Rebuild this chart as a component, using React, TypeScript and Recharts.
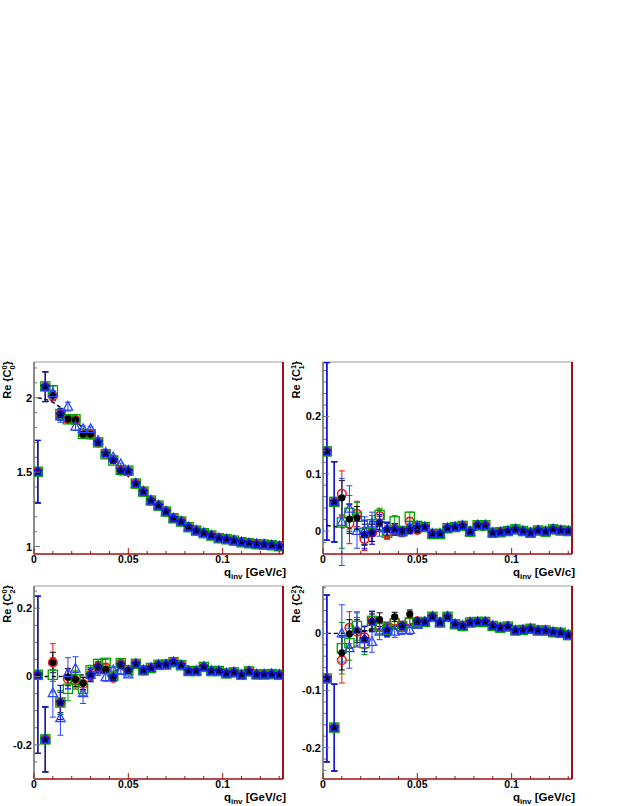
import React from 'react';
import { ComposedChart, Scatter, XAxis, YAxis, ErrorBar, ReferenceLine } from 'recharts';

// ---------- data ----------
const qBins = [0.002, 0.006, 0.010, 0.014, 0.018, 0.022, 0.026, 0.030, 0.034, 0.038, 0.042, 0.046, 0.050,
  0.054, 0.058, 0.062, 0.066, 0.070, 0.074, 0.078, 0.082, 0.086, 0.090, 0.094, 0.098, 0.102, 0.106, 0.110,
  0.114, 0.118, 0.122, 0.126, 0.130];

const xTicks = [0, 0.01, 0.02, 0.03, 0.04, 0.05, 0.06, 0.07, 0.08, 0.09, 0.1, 0.11, 0.12, 0.13];
const xMajor = [0, 0.05, 0.1];
const xLabels = ['0', '0.05', '0.1'];

// Panel 1: Re C00
const c00Tail = [1.423, 1.369, 1.309, 1.275, 1.235, 1.19, 1.168, 1.13, 1.107, 1.09, 1.074, 1.056, 1.049, 1.04, 1.029, 1.022, 1.016, 1.013, 1.009, 1.002];
const c00TailErr = [0.006, 0.006, 0.006, 0.005, 0.005, 0.005, 0.005, 0.005, 0.004, 0.004, 0.004, 0.004, 0.004, 0.004, 0.003, 0.003, 0.003, 0.003, 0.003, 0.003];
const c00Red = [1.503, 2.074, 2.012, 1.885, 1.855, 1.85, 1.76, 1.752, 1.70, 1.622, 1.585, 1.51, 1.505];
const c00Green = [1.503, 2.076, 2.05, 1.89, 1.855, 1.855, 1.757, 1.755, 1.70, 1.62, 1.578, 1.515, 1.51];
const c00Black = [1.503, 2.074, 2.015, 1.888, 1.857, 1.852, 1.756, 1.754, 1.70, 1.624, 1.58, 1.512, 1.508];
const c00BlueOpen = [1.503, 2.074, 2.03, 1.875, 1.94, 1.805, 1.79, 1.79, 1.71, 1.63, 1.60, 1.553, 1.51];
const c00BlueFull = [1.503, 2.074, null, 1.888, null, null, null, null, 1.70, 1.624, 1.58, 1.512, 1.508];
const c00ErrSmall = [0.21, 0.1, 0.03, 0.025, 0.02, 0.015, 0.012, 0.01, 0.01, 0.008, 0.008, 0.008, 0.007];
const c00ErrBlue = [0.21, 0.1, 0.05, 0.04, 0.03, 0.025, 0.02, 0.015, 0.012, 0.01, 0.01, 0.008, 0.007];
const c00Fit = [2.0, 1.99, 1.97, 1.935, 1.89, 1.845, 1.795, 1.745, 1.69, 1.635, 1.58, 1.525, 1.47, 1.415, 1.365, 1.315, 1.27, 1.23, 1.19, 1.16, 1.13, 1.105, 1.09, 1.075, 1.06, 1.05, 1.04, 1.03, 1.022, 1.016, 1.012, 1.008, 1.004];
const c00Ticks = [1, 1.1, 1.2, 1.3, 1.4, 1.5, 1.6, 1.7, 1.8, 1.9, 2, 2.1, 2.2];
const c00Major = [1, 1.5, 2];
const c00Labels = ['1', '1.5', '2'];

// Panel 2: Re C11
const c11Tail = [0.007, -0.005, -0.005, 0.005, 0.007, 0.009, -0.001, 0.01, 0.01, -0.003, -0.002, 0, 0.003, 0, -0.003, 0.001, -0.001, 0.003, 0.001, 0];
const c11TailErr = [0.005, 0.005, 0.005, 0.004, 0.004, 0.004, 0.004, 0.004, 0.003, 0.003, 0.003, 0.003, 0.003, 0.003, 0.003, 0.003, 0.003, 0.003, 0.003, 0.003];
const c11Red = [0.139, 0.051, 0.065, 0.013, 0.030, -0.014, -0.003, 0.026, -0.003, 0.003, -0.001, 0.016, 0.002];
const c11Green = [0.139, 0.051, 0.015, 0.032, 0.025, -0.003, 0.012, 0.028, -0.003, 0.017, 0, 0.025, 0.009];
const c11Black = [0.139, 0.051, 0.058, 0.021, 0.023, -0.006, -0.003, 0.014, 0.003, 0.003, 0, 0.003, 0.003];
const c11BlueOpen = [0.139, 0.051, 0.016, 0.039, 0, 0, 0.013, 0.006, 0.004, 0.003, -0.002, 0.006, 0.009];
const c11BlueFull = [0.139, 0.051, null, null, null, -0.006, -0.003, 0.014, 0.003, 0.003, 0, 0.003, 0.007];
const c11ErrRed = [0.155, 0.07, 0.04, 0.035, 0.022, 0.02, 0.015, 0.012, 0.01, 0.01, 0.008, 0.008, 0.006];
const c11ErrGreen = [0.155, 0.07, 0.045, 0.03, 0.025, 0.02, 0.015, 0.012, 0.012, 0.01, 0.008, 0.008, 0.006];
const c11ErrBlack = [0.155, 0.07, 0.03, 0.025, 0.02, 0.018, 0.015, 0.012, 0.01, 0.008, 0.008, 0.007, 0.006];
const c11ErrBlue = [0.155, 0.07, 0.076, 0.04, 0.03, 0.025, 0.02, 0.015, 0.012, 0.01, 0.008, 0.008, 0.006];
const c11Fit = [0.01, 0.008, 0.006, 0.005, 0.004, 0.004, 0.003, 0.003, 0.003, 0.003, 0.003, 0.003, 0.003, 0.003, 0.002, 0.002, 0.002, 0.002, 0.002, 0.002, 0.002, 0.001, 0.001, 0.001, 0.001, 0.001, 0.001, 0.001, 0.001, 0.001, 0.001, 0.001, 0.001];
const c11Ticks = [-0.04, -0.02, 0, 0.02, 0.04, 0.06, 0.08, 0.1, 0.12, 0.14, 0.16, 0.18, 0.2, 0.22, 0.24, 0.26, 0.28];
const c11Major = [0, 0.1, 0.2];
const c11Labels = ['0', '0.1', '0.2'];

// Panel 3: Re C20
const c20Tail = [0.037, 0.018, 0.025, 0.034, 0.035, 0.042, 0.033, 0.016, 0.016, 0.028, 0.016, 0.016, 0.009, 0.012, 0.005, 0.015, 0.006, 0.006, 0.007, 0.005];
const c20TailErr = [0.006, 0.006, 0.006, 0.005, 0.005, 0.005, 0.005, 0.005, 0.004, 0.004, 0.004, 0.004, 0.004, 0.004, 0.003, 0.003, 0.003, 0.003, 0.003, 0.003];
const c20Red = [0.005, -0.184, 0.041, -0.076, -0.007, -0.012, -0.022, 0.005, 0.028, 0.026, -0.004, 0.037, 0.02];
const c20Green = [0.005, -0.184, 0.005, -0.076, -0.036, -0.008, -0.036, 0.018, 0.037, 0.04, 0.002, 0.039, 0.018];
const c20Black = [0.005, -0.184, 0.041, -0.076, -0.002, -0.009, -0.02, 0.005, 0.028, 0.02, -0.002, 0.034, 0.018];
const c20BlueOpen = [0.005, -0.184, -0.049, -0.122, 0.01, 0.023, -0.049, 0.005, 0.018, -0.002, 0.018, 0.016, 0.006];
const c20BlueFull = [0.005, -0.184, null, -0.076, null, null, null, 0.005, 0.028, null, -0.002, 0.034, 0.018];
const c20ErrRed = [0.23, 0.095, 0.055, 0.035, 0.03, 0.025, 0.02, 0.015, 0.012, 0.01, 0.01, 0.008, 0.007];
const c20ErrGreen = [0.23, 0.095, 0.05, 0.035, 0.035, 0.025, 0.02, 0.015, 0.012, 0.01, 0.01, 0.008, 0.007];
const c20ErrBlack = [0.23, 0.095, 0.03, 0.03, 0.025, 0.02, 0.018, 0.015, 0.012, 0.01, 0.009, 0.008, 0.007];
const c20ErrBlue = [0.23, 0.095, 0.07, 0.05, 0.045, 0.035, 0.03, 0.02, 0.015, 0.012, 0.01, 0.008, 0.007];
const c20Fit = [0, 0, 0, 0, 0.001, 0.003, 0.005, 0.008, 0.011, 0.014, 0.017, 0.02, 0.023, 0.026, 0.028, 0.03, 0.032, 0.033, 0.033, 0.032, 0.03, 0.027, 0.024, 0.021, 0.018, 0.015, 0.013, 0.011, 0.009, 0.008, 0.007, 0.006, 0.005];
const c20Ticks = [-0.3, -0.25, -0.2, -0.15, -0.1, -0.05, 0, 0.05, 0.1, 0.15, 0.2, 0.25];
const c20Major = [-0.2, 0, 0.2];
const c20Labels = ['-0.2', '0', '0.2'];

// Panel 4: Re C22
const c22Tail = [0.02, 0.029, 0.019, 0.029, 0.016, 0.013, 0.019, 0.02, 0.02, 0.013, 0.01, 0.012, 0.005, 0.006, 0.008, 0.005, 0.005, 0.002, 0.001, -0.003];
const c22TailErr = [0.005, 0.005, 0.005, 0.004, 0.004, 0.004, 0.004, 0.004, 0.003, 0.003, 0.003, 0.003, 0.003, 0.003, 0.003, 0.003, 0.003, 0.003, 0.003, 0.003];
const c22Red = [-0.079, -0.165, -0.047, 0.01, 0.003, -0.007, 0.022, 0.012, 0.01, 0.022, 0.013, 0.022, 0.021];
const c22Green = [-0.079, -0.165, -0.026, -0.017, 0.013, -0.017, 0.022, 0.012, 0.006, 0.017, 0.012, 0.019, 0.018];
const c22Black = [-0.079, -0.165, -0.034, -0.001, 0.004, -0.01, 0.021, 0.024, 0.006, 0.029, 0.013, 0.034, 0.021];
const c22BlueOpen = [-0.079, -0.165, 0, -0.026, 0.006, -0.01, -0.015, 0.003, 0.006, 0.003, 0.006, 0.006, 0.015];
const c22BlueFull = [-0.079, -0.165, null, null, null, -0.01, 0.021, null, 0.006, null, 0.013, null, 0.021];
const c22ErrRed = [0.146, 0.076, 0.04, 0.028, 0.025, 0.02, 0.016, 0.013, 0.01, 0.01, 0.008, 0.008, 0.006];
const c22ErrGreen = [0.146, 0.076, 0.045, 0.03, 0.025, 0.02, 0.016, 0.013, 0.01, 0.01, 0.008, 0.008, 0.006];
const c22ErrBlack = [0.146, 0.076, 0.03, 0.025, 0.02, 0.015, 0.013, 0.012, 0.01, 0.008, 0.008, 0.007, 0.006];
const c22ErrBlue = [0.146, 0.076, 0.05, 0.035, 0.03, 0.022, 0.018, 0.014, 0.012, 0.01, 0.008, 0.008, 0.006];
const c22Fit = [0, 0, 0, 0.001, 0.002, 0.004, 0.006, 0.008, 0.01, 0.012, 0.014, 0.016, 0.018, 0.02, 0.021, 0.021, 0.021, 0.02, 0.019, 0.018, 0.017, 0.016, 0.014, 0.012, 0.011, 0.009, 0.008, 0.007, 0.006, 0.005, 0.004, 0.003, 0.002];
const c22Ticks = [-0.24, -0.22, -0.2, -0.18, -0.16, -0.14, -0.12, -0.1, -0.08, -0.06, -0.04, -0.02, 0, 0.02, 0.04, 0.06, 0.08];
const c22Major = [-0.2, -0.1, 0];
const c22Labels = ['-0.2', '-0.1', '0'];

// ---------- styles ----------
const RED = '#ee1111';
const GREEN = '#00a000';
const BLUE_OPEN = '#2a44ff';
const BLUE_FULL = '#1010dd';
const DARKRED = '#a01010';
const GRAY = '#707070';
const FONT = '"Liberation Sans", Arial, Helvetica, sans-serif';

type Pt = { x: number; y: number | null; err: number };

const build = (low: (number | null)[], tail: number[], lowErr: number[], tailErr: number[]) =>
  qBins
    .map((x, i): Pt => ({
      x,
      y: i < low.length ? low[i] : tail[i - low.length],
      err: i < lowErr.length ? lowErr[i] : tailErr[i - lowErr.length],
    }))
    .filter((p) => p.y !== null);

const buildFit = (vals: number[]) => qBins.map((x, i) => ({ x, y: vals[i] }));

// ---------- markers ----------
const RedCircle = (p: any) =>
  p.cx == null ? <g /> : <circle cx={p.cx} cy={p.cy} r={4.3} fill="none" stroke={RED} strokeWidth={1.5} />;
const GreenSquare = (p: any) =>
  p.cx == null ? <g /> : (
    <rect x={p.cx - 4.6} y={p.cy - 4.6} width={9.2} height={9.2} fill="none" stroke={GREEN} strokeWidth={1.3} />
  );
const BlackDot = (p: any) =>
  p.cx == null ? <g /> : <circle cx={p.cx} cy={p.cy} r={3.6} fill="#000" />;
const BlueOpenTri = (p: any) =>
  p.cx == null ? <g /> : (
    <polygon
      points={`${p.cx},${p.cy - 5.2} ${p.cx + 4.6},${p.cy + 3.4} ${p.cx - 4.6},${p.cy + 3.4}`}
      fill="none"
      stroke={BLUE_OPEN}
      strokeWidth={1.3}
    />
  );
const starPoints = (cx: number, cy: number, ro: number, ri: number) => {
  const pts: string[] = [];
  for (let k = 0; k < 10; k++) {
    const r = k % 2 === 0 ? ro : ri;
    const a = -Math.PI / 2 + (k * Math.PI) / 5;
    pts.push(`${cx + r * Math.cos(a)},${cy + r * Math.sin(a)}`);
  }
  return pts.join(' ');
};
const BlueFullStar = (p: any) =>
  p.cx == null ? <g /> : (
    <g>
      <polygon points={starPoints(p.cx, p.cy, 5.4, 3.0)} fill={BLUE_FULL} />
      <polygon points={`${p.cx},${p.cy - 2.8} ${p.cx + 2.6},${p.cy + 1.8} ${p.cx - 2.6},${p.cy + 1.8}`} fill="#000" />
    </g>
  );
const NoShape = () => <g />;

// ---------- ticks ----------
const near = (a: number, b: number) => Math.abs(a - b) < 1e-9;

const makeXTick = (majors: number[], labels: string[]) => (props: any) => {
  const { x, y, payload } = props;
  const idx = majors.findIndex((m) => near(m, payload.value));
  const len = idx >= 0 ? 6 : 3;
  return (
    <g>
      <line x1={x} x2={x} y1={y} y2={y - len} stroke={DARKRED} strokeWidth={1} />
      {idx >= 0 && (
        <text x={x} y={y + 9} textAnchor="middle" fontFamily={FONT} fontWeight="bold" fontSize={10.5} fill="#000">
          {labels[idx]}
        </text>
      )}
    </g>
  );
};

const makeYTick = (majors: number[], labels: string[]) => (props: any) => {
  const { x, y, payload } = props;
  const idx = majors.findIndex((m) => near(m, payload.value));
  const len = idx >= 0 ? 6 : 3;
  return (
    <g>
      <line x1={x} x2={x + len} y1={y} y2={y} stroke={GRAY} strokeWidth={1} />
      {idx >= 0 && (
        <text x={x - 2} y={y} dy="0.36em" textAnchor="end" fontFamily={FONT} fontWeight="bold" fontSize={11} fill="#000">
          {labels[idx]}
        </text>
      )}
    </g>
  );
};

// ---------- panel ----------
type PanelProps = {
  left: number;
  top: number;
  height: number;
  xAxisH: number;
  domain: [number, number];
  yTicks: number[];
  yMajor: number[];
  yLabels: string[];
  sup: string;
  sub: string;
  red: any[];
  green: any[];
  black: any[];
  blueOpen: any[];
  blueFull: any[];
  fit: any[];
};

const Panel = (p: PanelProps) => {
  const XTick = makeXTick(xMajor, xLabels);
  const YTick = makeYTick(p.yMajor, p.yLabels);
  const yLabel = (lp: any) => {
    const vb = lp.viewBox || {};
    const tx = vb.x + 11;
    const ty = vb.y - 1;
    return (
      <text
        x={tx}
        y={ty}
        transform={`rotate(-90 ${tx} ${ty})`}
        textAnchor="end"
        fontFamily={FONT}
        fontWeight="bold"
        fontSize={11}
        fill="#000"
      >
        <tspan>Re {'{'}C</tspan>
        <tspan dy={-4} fontSize={7.5}>{p.sup}</tspan>
        <tspan dx={-4.2} dy={8} fontSize={7.5}>{p.sub}</tspan>
        <tspan dy={-4}>{'}'}</tspan>
      </text>
    );
  };
  const xLabel = (lp: any) => {
    const vb = lp.viewBox || {};
    const tx = vb.x + vb.width + 3;
    const ty = vb.y + 22;
    return (
      <text x={tx} y={ty} textAnchor="end" fontFamily={FONT} fontWeight="bold" fontSize={11.5} fill="#000">
        <tspan>q</tspan>
        <tspan dy={3} fontSize={8}>inv</tspan>
        <tspan dy={-3}> [GeV/c]</tspan>
      </text>
    );
  };
  return (
    <div style={{ position: 'absolute', left: p.left, top: p.top }}>
      <ComposedChart width={300} height={p.height} margin={{ top: 10, right: 17, left: 0, bottom: 0 }}>
        <XAxis
          type="number"
          dataKey="x"
          domain={[0, 0.132]}
          ticks={xTicks}
          interval={0}
          allowDataOverflow
          height={p.xAxisH}
          tickLine={false}
          tickSize={0}
          tickMargin={0}
          axisLine={{ stroke: DARKRED, strokeWidth: 1.6 }}
          tick={XTick}
          label={{ content: xLabel }}
        />
        <YAxis
          type="number"
          dataKey="y"
          domain={p.domain}
          ticks={p.yTicks}
          interval={0}
          allowDataOverflow
          width={34}
          tickLine={false}
          tickSize={0}
          tickMargin={0}
          axisLine={{ stroke: GRAY, strokeWidth: 1.6 }}
          tick={YTick}
          label={{ content: yLabel }}
        />
        <ReferenceLine y={p.domain[1]} stroke="#9a9a9a" strokeWidth={1} ifOverflow="visible" />
        <ReferenceLine x={0.132} stroke={DARKRED} strokeWidth={2} ifOverflow="visible" />
        <Scatter
          data={p.fit}
          dataKey="y"
          shape={NoShape}
          line={{ stroke: '#000', strokeWidth: 1.4, strokeDasharray: '4 3' }}
          isAnimationActive={false}
        />
        <Scatter data={p.red} dataKey="y" shape={RedCircle} isAnimationActive={false}>
          <ErrorBar dataKey="err" direction="y" width={3} stroke={RED} strokeWidth={1} />
        </Scatter>
        <Scatter data={p.green} dataKey="y" shape={GreenSquare} isAnimationActive={false}>
          <ErrorBar dataKey="err" direction="y" width={3} stroke={GREEN} strokeWidth={1} />
        </Scatter>
        <Scatter data={p.black} dataKey="y" shape={BlackDot} isAnimationActive={false}>
          <ErrorBar dataKey="err" direction="y" width={3} stroke="#000" strokeWidth={1} />
        </Scatter>
        <Scatter data={p.blueOpen} dataKey="y" shape={BlueOpenTri} isAnimationActive={false}>
          <ErrorBar dataKey="err" direction="y" width={3} stroke={BLUE_OPEN} strokeWidth={1} />
        </Scatter>
        <Scatter data={p.blueFull} dataKey="y" shape={BlueFullStar} isAnimationActive={false}>
          <ErrorBar dataKey="err" direction="y" width={3} stroke={BLUE_FULL} strokeWidth={1.2} />
        </Scatter>
      </ComposedChart>
    </div>
  );
}

export default function App() {
  return (
    <div style={{ position: 'absolute', left: 0, top: 0, width: 623, height: 806, overflow: 'hidden', background: '#fff' }}>
      <Panel
        left={0}
        top={352}
        height={232}
        xAxisH={30}
        domain={[0.95, 2.24]}
        yTicks={c00Ticks}
        yMajor={c00Major}
        yLabels={c00Labels}
        sup="0"
        sub="0"
        red={build(c00Red, c00Tail, c00ErrSmall, c00TailErr)}
        green={build(c00Green, c00Tail, c00ErrSmall, c00TailErr)}
        black={build(c00Black, c00Tail, c00ErrSmall, c00TailErr)}
        blueOpen={build(c00BlueOpen, c00Tail, c00ErrBlue, c00TailErr)}
        blueFull={build(c00BlueFull, c00Tail, c00ErrBlue, c00TailErr)}
        fit={buildFit(c00Fit)}
      />
      <Panel
        left={289}
        top={352}
        height={232}
        xAxisH={30}
        domain={[-0.04, 0.295]}
        yTicks={c11Ticks}
        yMajor={c11Major}
        yLabels={c11Labels}
        sup="1"
        sub="1"
        red={build(c11Red, c11Tail, c11ErrRed, c11TailErr)}
        green={build(c11Green, c11Tail, c11ErrGreen, c11TailErr)}
        black={build(c11Black, c11Tail, c11ErrBlack, c11TailErr)}
        blueOpen={build(c11BlueOpen, c11Tail, c11ErrBlue, c11TailErr)}
        blueFull={build(c11BlueFull, c11Tail, c11ErrBlue, c11TailErr)}
        fit={buildFit(c11Fit)}
      />
      <Panel
        left={0}
        top={576}
        height={230}
        xAxisH={27}
        domain={[-0.3, 0.265]}
        yTicks={c20Ticks}
        yMajor={c20Major}
        yLabels={c20Labels}
        sup="0"
        sub="2"
        red={build(c20Red, c20Tail, c20ErrRed, c20TailErr)}
        green={build(c20Green, c20Tail, c20ErrGreen, c20TailErr)}
        black={build(c20Black, c20Tail, c20ErrBlack, c20TailErr)}
        blueOpen={build(c20BlueOpen, c20Tail, c20ErrBlue, c20TailErr)}
        blueFull={build(c20BlueFull, c20Tail, c20ErrBlue, c20TailErr)}
        fit={buildFit(c20Fit)}
      />
      <Panel
        left={289}
        top={576}
        height={230}
        xAxisH={27}
        domain={[-0.255, 0.083]}
        yTicks={c22Ticks}
        yMajor={c22Major}
        yLabels={c22Labels}
        sup="2"
        sub="2"
        red={build(c22Red, c22Tail, c22ErrRed, c22TailErr)}
        green={build(c22Green, c22Tail, c22ErrGreen, c22TailErr)}
        black={build(c22Black, c22Tail, c22ErrBlack, c22TailErr)}
        blueOpen={build(c22BlueOpen, c22Tail, c22ErrBlue, c22TailErr)}
        blueFull={build(c22BlueFull, c22Tail, c22ErrBlue, c22TailErr)}
        fit={buildFit(c22Fit)}
      />
    </div>
  );
}
